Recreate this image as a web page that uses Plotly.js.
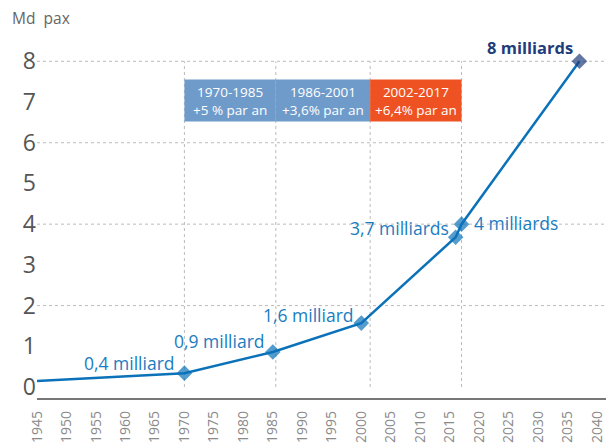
<!DOCTYPE html>
<html>
<head>
<meta charset="utf-8">
<script src="https://cdn.plot.ly/plotly-3.0.1.min.js"></script>
<style>html,body{margin:0;padding:0;background:#fff;}#chart{width:606px;height:443px;}</style>
</head>
<body>
<div id="chart"></div>
<script>
// Data
const years = [1945, 1970, 1985, 2000, 2016, 2017, 2037];
const passengers = [0.15, 0.34, 0.86, 1.57, 3.68, 4.0, 8.0];
const pointLabels = ["", "0,4 milliard", "0,9 milliard", "1,6 milliard", "3,7 milliards", "4 milliards", "8 milliards"];
const periods = ["1970-1985", "1986-2001", "2002-2017"];
const periodGrowth = ["+5 % par an", "+3,6% par an", "+6,4% par an"];
const periodStart = [1970, 1985.5, 2001.5];
const periodEnd = [1985.5, 2001.5, 2017];
const periodColors = ["#6f9bcb", "#6f9bcb", "#ee5223"];
const yTicks = [0, 1, 2, 3, 4, 5, 6, 7, 8];
const xTicks = [1945,1950,1955,1960,1965,1970,1975,1980,1985,1990,1995,2000,2005,2010,2015,2020,2025,2030,2035,2040];
const vGrid = [1970, 1985.5, 2001.5, 2017];
const hGrid = [2, 4, 6, 8];

const FONT = "'Open Sans', 'Noto Sans', sans-serif";
const BLUE = "#0b72b9";
const NAVY = "#1f3d7a";

const markerSizes = years.map((y, i) => i === 0 ? 0 : 12);
const markerColors = years.map((y, i) => i === years.length - 1 ? NAVY : BLUE);

const traces = [{
  x: years, y: passengers, type: 'scatter', mode: 'lines+markers',
  line: {color: BLUE, width: 2.5},
  marker: {symbol: 'diamond', size: markerSizes, color: markerColors, line: {width: 0}},
  cliponaxis: false, hoverinfo: 'skip'
}];

const shapes = [];
vGrid.forEach(v => shapes.push({type: 'line', xref: 'x', yref: 'y', x0: v, x1: v, y0: 0, y1: 8,
  line: {color: '#bbbbbb', width: 1, dash: 'dot'}, layer: 'below'}));
hGrid.forEach(h => shapes.push({type: 'line', xref: 'paper', yref: 'y', x0: 0, x1: 1, y0: h, y1: h,
  line: {color: '#bbbbbb', width: 1, dash: 'dot'}, layer: 'below'}));
periods.forEach((p, i) => shapes.push({type: 'rect', xref: 'x', yref: 'y', x0: periodStart[i], x1: periodEnd[i],
  y0: 6.52, y1: 7.55, fillcolor: periodColors[i], line: {width: 0}, layer: 'above'}));

const annotations = [];
periods.forEach((p, i) => annotations.push({
  x: (periodStart[i] + periodEnd[i]) / 2, y: 7.035, xref: 'x', yref: 'y',
  text: p + '<br>' + periodGrowth[i], showarrow: false,
  font: {family: FONT, size: 13.5, color: '#ffffff'}, xanchor: 'center', yanchor: 'middle'
}));
const labelSpec = [
  null,
  {dy: 0.25, xa: 'right', xs: -7},
  {dy: 0.27, xa: 'right', xs: -6},
  {dy: 0.19, xa: 'right', xs: -5},
  {dy: 0.22, xa: 'right', xs: -5},
  {dy: 0.02, xa: 'left', xs: 10},
  {dy: 0.33, xa: 'right', xs: -4}
];
years.forEach((yr, i) => {
  if (!pointLabels[i]) return;
  const s = labelSpec[i];
  const last = i === years.length - 1;
  annotations.push({
    x: yr, y: passengers[i] + s.dy, xref: 'x', yref: 'y', text: last ? '<b>' + pointLabels[i] + '</b>' : pointLabels[i],
    showarrow: false, xanchor: s.xa, yanchor: 'middle', xshift: s.xs,
    font: {family: FONT, size: last ? 16.5 : 17.5, color: last ? NAVY : '#1a7cc1'}
  });
});

const layout = {
  width: 606, height: 443,
  margin: {l: 37, r: 0, t: 45, b: 45},
  paper_bgcolor: '#ffffff', plot_bgcolor: '#ffffff',
  showlegend: false,
  title: {text: 'Md  pax', x: 0.02, xanchor: 'left', y: 0.958, yanchor: 'middle', yref: 'container',
    font: {family: FONT, size: 15.5, color: '#666666'}},
  xaxis: {range: [1945, 2041.5], tickvals: xTicks, ticktext: xTicks.map(String), tickangle: -90,
    showgrid: false, zeroline: false, showline: true, linecolor: '#777777', linewidth: 1.5,
    ticks: 'outside', ticklen: 6, tickcolor: 'rgba(0,0,0,0)', ticklabeloverflow: 'allow',
    tickfont: {family: FONT, size: 14, color: '#8a8a8a'}, fixedrange: true},
  yaxis: {range: [-0.27, 8.4], tickvals: yTicks, ticktext: yTicks.map(String),
    showgrid: false, zeroline: false, showline: false, ticks: '',
    tickfont: {family: FONT, size: 23, color: '#555555'}, fixedrange: true},
  shapes: shapes, annotations: annotations,
  font: {family: FONT}
};

Plotly.newPlot('chart', traces, layout, {displayModeBar: false, staticPlot: true});
</script>
</body>
</html>
